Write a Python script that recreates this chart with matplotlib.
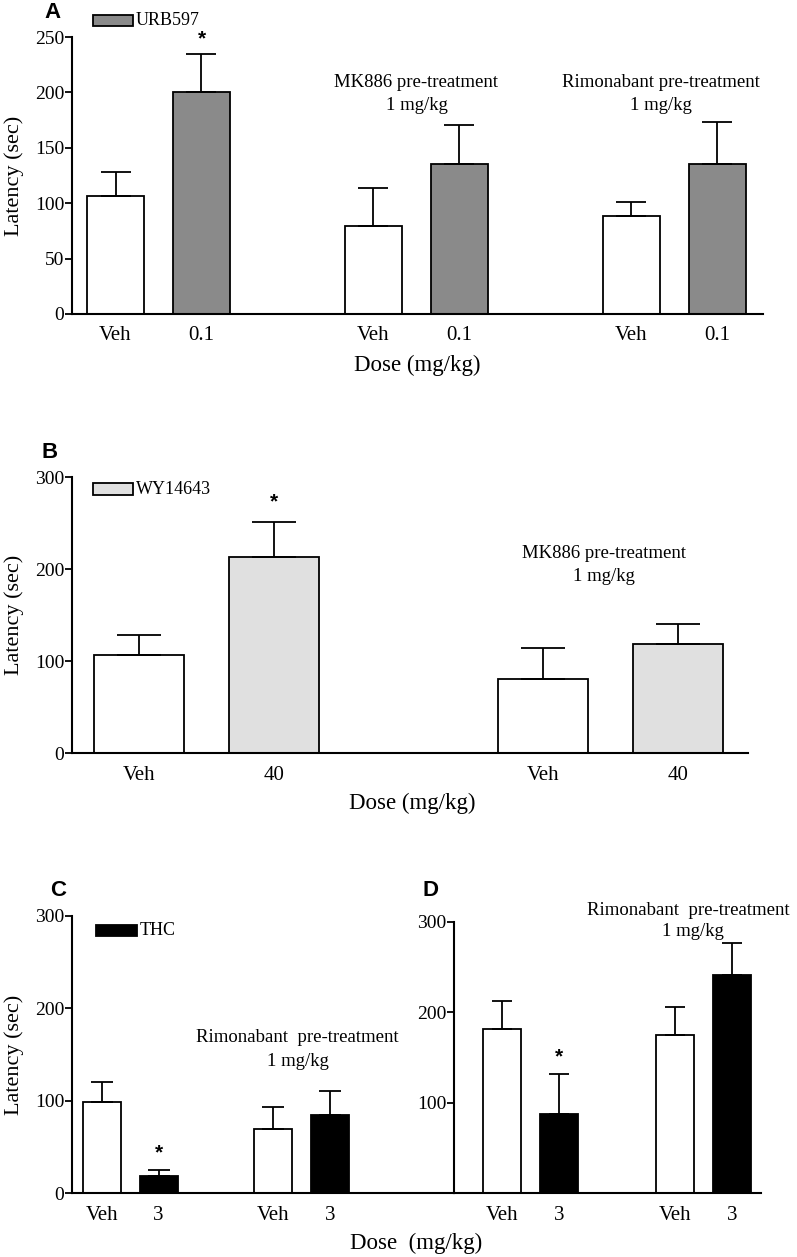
import matplotlib
matplotlib.use("Agg")
import matplotlib.pyplot as plt
from matplotlib.patches import Rectangle
import numpy as np

# ---------------- data ----------------
# Panel A (URB597)
a_labels = ["Veh", "0.1", "Veh", "0.1", "Veh", "0.1"]
a_veh = [106.5, 79.5, 88.5]
a_veh_err = [21.5, 34.5, 13.0]
a_urb = [200.0, 135.5, 135.5]
a_urb_err = [35.0, 35.0, 37.5]

# Panel B (WY14643)
b_labels = ["Veh", "40", "Veh", "40"]
b_veh = [106.5, 80.0]
b_veh_err = [22.0, 34.5]
b_wy = [213.5, 118.0]
b_wy_err = [37.5, 22.0]

# Panel C (THC)
c_labels = ["Veh", "3", "Veh", "3"]
c_veh = [98.6, 68.8]
c_veh_err = [21.3, 23.9]
c_thc = [18.5, 84.8]
c_thc_err = [6.5, 25.2]

# Panel D (THC)
d_labels = ["Veh", "3", "Veh", "3"]
d_veh = [181.8, 175.4]
d_veh_err = [30.8, 30.5]
d_thc = [87.9, 241.3]
d_thc_err = [43.6, 35.7]

W, H = 797, 1257
SERIF = "Liberation Serif"
SANS = "Liberation Sans"

fig = plt.figure(figsize=(W / 100, H / 100), dpi=100)


def fx(px):
    return px / W


def fy(py):
    return 1 - py / H


def make_ax(left, right, top, bottom):
    return fig.add_axes([fx(left), fy(bottom), (right - left) / W, (bottom - top) / H])


def style(ax, xlim, ylim, yticks, ytlabels, xpos, xlabels):
    ax.set_xlim(*xlim)
    ax.set_ylim(*ylim)
    for s in ["top", "right"]:
        ax.spines[s].set_visible(False)
    for s in ["left", "bottom"]:
        ax.spines[s].set_linewidth(1.5)
    ax.set_yticks(yticks)
    ax.set_yticklabels(ytlabels, fontfamily=SERIF, fontsize=14)
    ax.set_xticks(xpos)
    ax.set_xticklabels(xlabels, fontfamily=SERIF, fontsize=15)
    ax.tick_params(axis="y", length=5, width=1.3, pad=0.5, direction="out")
    ax.tick_params(axis="x", length=0, pad=9)


def draw_bars(ax, pos, vals, errs, color, width, cap):
    ax.bar(pos, vals, width=width, color=color, edgecolor="black", linewidth=1.3, zorder=2)
    ax.errorbar(pos, vals, yerr=[np.zeros(len(vals)), errs], fmt="none", ecolor="black",
                elinewidth=1.3, capsize=cap, capthick=1.3, zorder=3)


def legend_box(x0, x1, y0, y1, color, label):
    fig.add_artist(Rectangle((fx(x0), fy(y1)), (x1 - x0) / W, (y1 - y0) / H,
                             transform=fig.transFigure, facecolor=color,
                             edgecolor="black", linewidth=1.3))
    fig.text(fx(x1 + 3), fy((y0 + y1) / 2), label, fontfamily=SERIF, fontsize=13,
             ha="left", va="center")


def star(ax, x, y):
    ax.text(x, y, "*", fontfamily=SANS, fontweight="bold", fontsize=15,
            ha="center", va="center", clip_on=False)


def ylab(y):
    fig.text(fx(14), fy(y), "Latency (sec)", rotation=90, fontfamily=SERIF,
             fontsize=16, ha="center", va="center")


# ---------------- Panel A ----------------
axA = make_ax(72, 763, 37, 314)
pA_veh = [0, 3, 6]
pA_urb = [1, 4, 7]
draw_bars(axA, pA_veh, a_veh, a_veh_err, "white", 0.66, 10.5)
draw_bars(axA, pA_urb, a_urb, a_urb_err, "#8a8a8a", 0.66, 10.5)
style(axA, (-0.506, 7.53), (0, 250), [0, 50, 100, 150, 200, 250],
      ["0", "50", "100", "150", "200", "250"], [0, 1, 3, 4, 6, 7], a_labels)
star(axA, 1, 248)
axA.text(3.5, 209, "MK886 pre-treatment", fontfamily=SERIF, fontsize=13.5, ha="center", va="center")
axA.text(3.5, 188.5, "1 mg/kg", fontfamily=SERIF, fontsize=13.5, ha="center", va="center")
axA.text(6.34, 209, "Rimonabant pre-treatment", fontfamily=SERIF, fontsize=13.5, ha="center", va="center")
axA.text(6.34, 188.5, "1 mg/kg", fontfamily=SERIF, fontsize=13.5, ha="center", va="center")
legend_box(93, 133, 15, 26, "#8a8a8a", "URB597")
fig.text(fx(53), fy(13), "A", fontfamily=SANS, fontweight="bold", fontsize=16, ha="center", va="center")
fig.text(fx(417), fy(365), "Dose (mg/kg)", fontfamily=SERIF, fontsize=16.5, ha="center", va="center")
ylab(176)

# ---------------- Panel B ----------------
axB = make_ax(72, 748, 477, 753)
draw_bars(axB, [0, 3], b_veh, b_veh_err, "white", 0.67, 16)
draw_bars(axB, [1, 4], b_wy, b_wy_err, "#e0e0e0", 0.67, 16)
style(axB, (-0.50, 4.52), (0, 300), [0, 100, 200, 300], ["0", "100", "200", "300"],
      [0, 1, 3, 4], b_labels)
star(axB, 1, 273)
axB.text(3.45, 217, "MK886 pre-treatment", fontfamily=SERIF, fontsize=13.5, ha="center", va="center")
axB.text(3.45, 192, "1 mg/kg", fontfamily=SERIF, fontsize=13.5, ha="center", va="center")
legend_box(93, 133, 483, 495, "#e0e0e0", "WY14643")
fig.text(fx(50), fy(452), "B", fontfamily=SANS, fontweight="bold", fontsize=16, ha="center", va="center")
fig.text(fx(412), fy(803), "Dose (mg/kg)", fontfamily=SERIF, fontsize=16.5, ha="center", va="center")
ylab(615)

# ---------------- Panel C ----------------
axC = make_ax(72, 454, 916, 1193)
draw_bars(axC, [0, 3], c_veh, c_veh_err, "white", 0.67, 8)
draw_bars(axC, [1, 4], c_thc, c_thc_err, "black", 0.67, 8)
style(axC, (-0.52, 6.18), (0, 300), [0, 100, 200, 300], ["0", "100", "200", "300"],
      [0, 1, 3, 4], c_labels)
star(axC, 1, 43.5)
axC.text(3.44, 168, "Rimonabant  pre-treatment", fontfamily=SERIF, fontsize=13.5, ha="center", va="center")
axC.text(3.44, 142, "1 mg/kg", fontfamily=SERIF, fontsize=13.5, ha="center", va="center")
legend_box(96, 137, 925, 936, "black", "THC")
fig.text(fx(58), fy(891), "C", fontfamily=SANS, fontweight="bold", fontsize=16, ha="center", va="center")
ylab(1055)

# ---------------- Panel D ----------------
axD = make_ax(454, 761, 922, 1193)
draw_bars(axD, [0, 3], d_veh, d_veh_err, "white", 0.66, 7.5)
draw_bars(axD, [1, 4], d_thc, d_thc_err, "black", 0.66, 7.5)
style(axD, (-0.83, 4.5), (0, 300), [100, 200, 300], ["100", "200", "300"],
      [0, 1, 3, 4], d_labels)
star(axD, 1, 151)
axD.text(3.23, 313, "Rimonabant  pre-treatment", fontfamily=SERIF, fontsize=13.5,
         ha="center", va="center", clip_on=False)
axD.text(3.32, 289, "1 mg/kg", fontfamily=SERIF, fontsize=13.5, ha="center", va="center")
fig.text(fx(430), fy(891), "D", fontfamily=SANS, fontweight="bold", fontsize=16, ha="center", va="center")

fig.text(fx(416), fy(1243), "Dose  (mg/kg)", fontfamily=SERIF, fontsize=16.5, ha="center", va="center")

fig.savefig("out.png", dpi=100)
